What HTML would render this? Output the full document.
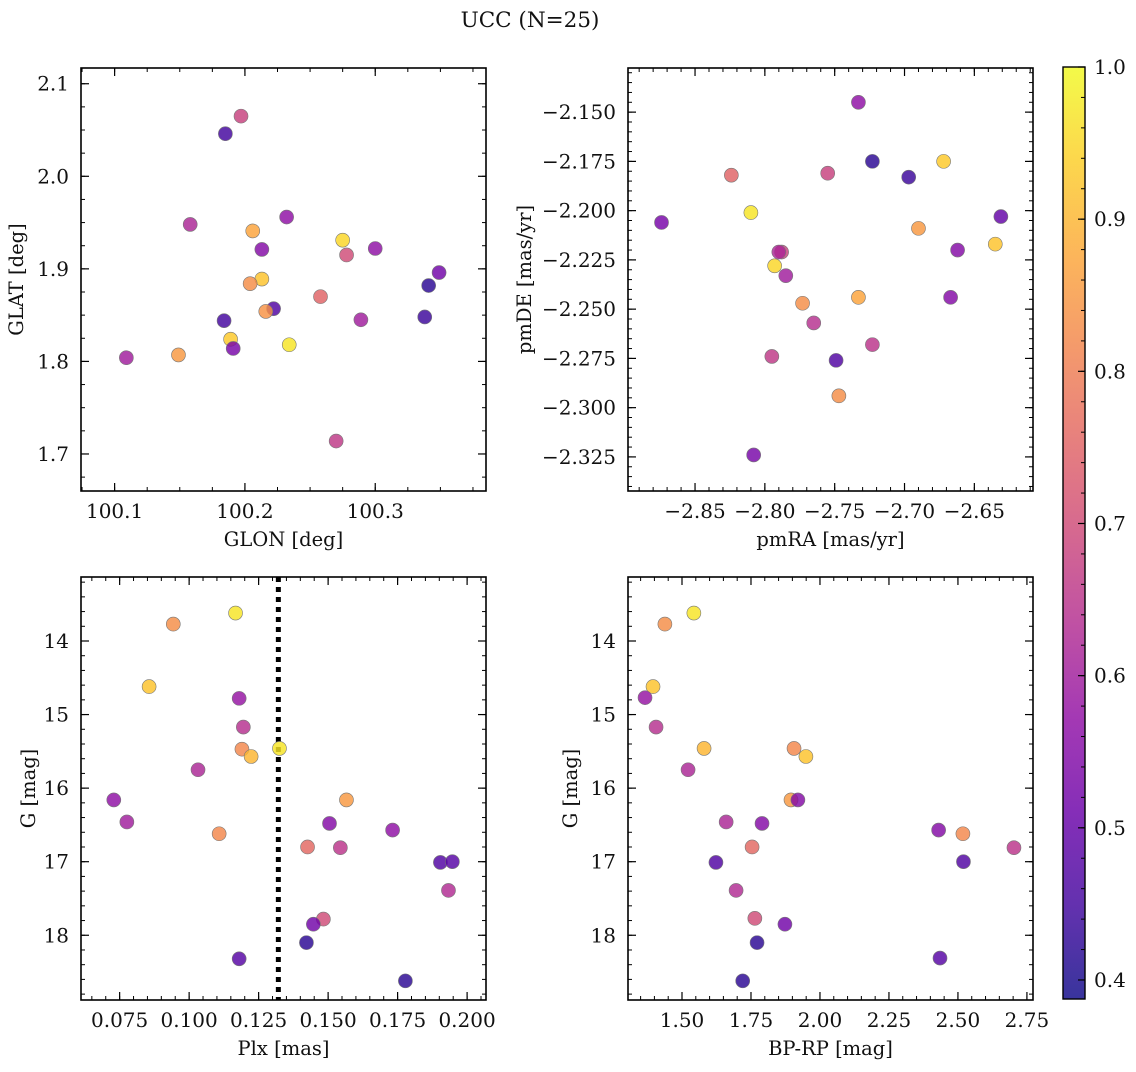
<!DOCTYPE html>
<html><head><meta charset="utf-8"><style>
html,body{margin:0;padding:0;background:#fff;}
svg text{font-family:"DejaVu Serif","Liberation Serif",serif;fill:#111;}
</style></head><body>
<svg id="fig" width="1136" height="1067" xmlns="http://www.w3.org/2000/svg">
<defs><linearGradient id="plasma" x1="0" y1="1" x2="0" y2="0"></linearGradient></defs>
<text x="530" y="27" font-size="21.5" text-anchor="middle">UCC (N=25)</text>
</svg>
<script>
// Panel 1: GLON vs GLAT
const glonX=[100.185,100.197,100.158,100.206,100.232,100.213,100.275,100.300,100.278,100.349,100.213,100.204,100.341,100.222,100.216,100.258,100.184,100.289,100.338,100.189,100.191,100.234,100.109,100.149,100.270];
const glatY=[2.046,2.065,1.948,1.941,1.956,1.921,1.931,1.922,1.915,1.896,1.889,1.884,1.882,1.857,1.854,1.870,1.844,1.845,1.848,1.824,1.814,1.818,1.804,1.807,1.714];
const p1C=[0.45,0.68,0.62,0.87,0.57,0.55,0.95,0.57,0.70,0.52,0.92,0.83,0.42,0.47,0.84,0.75,0.45,0.60,0.44,0.93,0.53,0.97,0.60,0.85,0.66];
// Panel 2: pmRA vs pmDE
const pmraX=[-2.733,-2.824,-2.755,-2.723,-2.697,-2.672,-2.874,-2.810,-2.631,-2.690,-2.788,-2.662,-2.793,-2.785,-2.635,-2.773,-2.733,-2.667,-2.765,-2.795,-2.723,-2.749,-2.747,-2.808,-2.790];
const pmdeY=[-2.145,-2.182,-2.181,-2.175,-2.183,-2.175,-2.206,-2.201,-2.203,-2.209,-2.221,-2.220,-2.228,-2.233,-2.217,-2.247,-2.244,-2.244,-2.257,-2.274,-2.268,-2.276,-2.294,-2.324,-2.221];
const p2C=[0.57,0.75,0.68,0.42,0.44,0.93,0.53,0.97,0.50,0.85,0.68,0.55,0.95,0.60,0.92,0.83,0.87,0.55,0.64,0.66,0.65,0.47,0.83,0.53,0.62];
// Panel 3: Plx vs G
const plxX=[0.1167,0.0943,0.0856,0.118,0.1195,0.119,0.1223,0.1325,0.1032,0.0729,0.0776,0.1108,0.118,0.1566,0.1505,0.1732,0.1426,0.1544,0.1904,0.1947,0.1933,0.1483,0.1447,0.1422,0.1778];
const gY3=[13.62,13.77,14.62,14.78,15.17,15.47,15.57,15.46,15.75,16.16,16.46,16.62,18.32,16.16,16.48,16.57,16.80,16.81,17.01,17.00,17.39,17.78,17.85,18.10,18.62];
const p3C=[0.97,0.83,0.92,0.58,0.64,0.82,0.90,0.97,0.62,0.57,0.60,0.82,0.48,0.85,0.55,0.57,0.76,0.65,0.47,0.48,0.63,0.70,0.52,0.42,0.42];
const plxLine=[0.1321];
// Panel 4: BP-RP vs G
const bprpX=[1.543,1.438,1.395,1.366,1.406,1.58,1.906,1.949,1.522,1.895,1.92,1.66,1.79,2.43,2.518,1.754,2.703,1.623,2.52,1.696,1.764,1.873,1.772,2.435,1.72];
const gY4=[13.62,13.77,14.62,14.77,15.17,15.46,15.46,15.57,15.75,16.16,16.16,16.46,16.48,16.57,16.62,16.80,16.81,17.01,17.00,17.39,17.77,17.85,18.10,18.31,18.62];
const p4C=[0.97,0.83,0.92,0.58,0.64,0.90,0.82,0.92,0.62,0.85,0.55,0.62,0.55,0.55,0.82,0.76,0.65,0.47,0.47,0.63,0.70,0.52,0.42,0.48,0.42];
const cbTicks=[0.4,0.5,0.6,0.7,0.8,0.9,1.0];

const NS="http://www.w3.org/2000/svg";
const svg=document.getElementById('fig');
const CMIN=0.3875,CMAX=1.0;
const FS=20, LFS=19.5;
const stops=[[0,'#0d0887'],[0.1,'#41049d'],[0.2,'#6a00a8'],[0.3,'#8f0da4'],[0.4,'#b12a90'],[0.5,'#cc4778'],[0.6,'#e16462'],[0.7,'#f2844b'],[0.8,'#fca636'],[0.9,'#fcce25'],[1,'#f0f921']];
function hex(h){return [1,3,5].map(i=>parseInt(h.substr(i,2),16));}
function cmap(v){let t=Math.max(0,Math.min(1,(v-CMIN)/(CMAX-CMIN)));
 for(let i=0;i<stops.length-1;i++){if(t<=stops[i+1][0]){const a=hex(stops[i][1]),b=hex(stops[i+1][1]);const f=(t-stops[i][0])/(stops[i+1][0]-stops[i][0]);
 return 'rgb('+a.map((x,k)=>Math.round(x+(b[k]-x)*f)).join(',')+')';}}return stops[stops.length-1][1];}
function el(tag,attrs,parent){const e=document.createElementNS(NS,tag);for(const k in attrs)e.setAttribute(k,attrs[k]);(parent||svg).appendChild(e);return e;}
function fmt(v,d){const s=Math.abs(v).toFixed(d);return (v<0?'\u2212':'')+s;}

function panel(name,box,xr,yr,xt,xmin,xd,yt,ymin,yd,xs,ys,cs,xlabel,ylabel,invY,ylOff){
 const g=el('g',{});
 
 
 const [L,T,R,B]=box;
 const sx=v=>L+(v-xr[0])/(xr[1]-xr[0])*(R-L);
 const sy=invY? v=>T+(v-yr[0])/(yr[1]-yr[0])*(B-T) : v=>B-(v-yr[0])/(yr[1]-yr[0])*(B-T);
 const lo=Math.min(xr[0],xr[1]),hi=Math.max(xr[0],xr[1]);
 for(let v=Math.ceil(lo/xmin-1e-6)*xmin;v<=hi+1e-9;v+=xmin){const x=sx(v);
  const t1=el('line',{x1:x,x2:x,y1:B,y2:B-4,stroke:'#000','stroke-width':1},g);
  const t2=el('line',{x1:x,x2:x,y1:T,y2:T+4,stroke:'#000','stroke-width':1},g);}
 const ylo=Math.min(yr[0],yr[1]),yhi=Math.max(yr[0],yr[1]);
 for(let v=Math.ceil(ylo/ymin-1e-6)*ymin;v<=yhi+1e-9;v+=ymin){const y=sy(v);
  const t1=el('line',{x1:L,x2:L+4,y1:y,y2:y,stroke:'#000','stroke-width':1},g);
  const t2=el('line',{x1:R,x2:R-4,y1:y,y2:y,stroke:'#000','stroke-width':1},g);}
 xt.forEach(v=>{const x=sx(v);
  const a=el('line',{x1:x,x2:x,y1:B,y2:B-8,stroke:'#000','stroke-width':1.2},g);
  const b=el('line',{x1:x,x2:x,y1:T,y2:T+8,stroke:'#000','stroke-width':1.2},g);
  const t=el('text',{x:x,y:B+27,'font-size':FS,'text-anchor':'middle'},g);t.textContent=fmt(v,xd);
  });
 yt.forEach(v=>{const y=sy(v);
  const a=el('line',{x1:L,x2:L+8,y1:y,y2:y,stroke:'#000','stroke-width':1.2},g);
  const b=el('line',{x1:R,x2:R-8,y1:y,y2:y,stroke:'#000','stroke-width':1.2},g);
  const t=el('text',{x:L-12,y:y+7,'font-size':FS,'text-anchor':'end'},g);t.textContent=fmt(v,yd);
  });
 const fr=el('rect',{x:L,y:T,width:R-L,height:B-T,fill:'none',stroke:'#000','stroke-width':1.6},g);
 
 const xl=el('text',{x:(L+R)/2,y:B+55,'font-size':LFS,'text-anchor':'middle'},g);xl.textContent=xlabel;
 
 const yx=L-ylOff,yy=(T+B)/2;
 const yl=el('text',{x:yx,y:yy,'font-size':LFS,'text-anchor':'middle',transform:'rotate(-90 '+yx+' '+yy+')'},g);yl.textContent=ylabel;
 
 return {g,sx,sy,T,B,draw(){xs.forEach((v,i)=>{const c=el('circle',{cx:sx(v),cy:sy(ys[i]),r:7,fill:cmap(cs[i]),'fill-opacity':0.82,stroke:'#777','stroke-width':0.6},g);
  });}};
}
const P1=panel('glon-glat-panel',[81,68,486,491],[100.0742,100.385],[1.66,2.117],[100.1,100.2,100.3],0.025,1,[1.7,1.8,1.9,2.0,2.1],0.025,1,glonX,glatY,p1C,'GLON [deg]','GLAT [deg]',false,58);P1.draw();
const P2=panel('pm-panel',[628,68,1033,491],[-2.898,-2.608],[-2.3423,-2.1276],[-2.85,-2.80,-2.75,-2.70,-2.65],0.01,2,[-2.325,-2.3,-2.275,-2.25,-2.225,-2.2,-2.175,-2.15],0.005,3,pmraX,pmdeY,p2C,'pmRA [mas/yr]','pmDE [mas/yr]',false,97);P2.draw();
const P3=panel('plx-g-panel',[81,577,486,1000],[0.0611,0.2068],[13.13,18.88],[0.075,0.1,0.125,0.15,0.175,0.2],0.005,3,[14,15,16,17,18],0.2,0,plxX,gY3,p3C,'Plx [mas]','G [mag]',true,46);
plxLine.forEach(v=>{const l=el('line',{x1:P3.sx(v),x2:P3.sx(v),y1:P3.T,y2:P3.B,stroke:'#000','stroke-width':5,'stroke-dasharray':'5 5'},P3.g);
 });
P3.draw();
const P4=panel('color-magnitude-panel',[628,577,1033,1000],[1.3043,2.772],[13.13,18.88],[1.5,1.75,2.0,2.25,2.5,2.75],0.05,2,[14,15,16,17,18],0.2,0,bprpX,gY4,p4C,'BP-RP [mag]','G [mag]',true,51);P4.draw();

const grad=document.getElementById('plasma');
for(let i=0;i<=20;i++){const v=CMIN+(CMAX-CMIN)*i/20;el('stop',{offset:(i/20),'stop-color':cmap(v),'stop-opacity':0.82},grad);}
const cb=el('g',{});


const cT=67,cB=999,cL=1063,cR=1085;
const cy=v=>cB-(v-CMIN)/(CMAX-CMIN)*(cB-cT);
const cr=el('rect',{x:cL,y:cT,width:cR-cL,height:cB-cT,fill:'url(#plasma)',stroke:'#000','stroke-width':1.4},cb);

for(let v=0.4;v<=1.0001;v+=0.02){const m=el('line',{x1:cR,x2:cR-4,y1:cy(v),y2:cy(v),stroke:'#000','stroke-width':1},cb);
 }
cbTicks.forEach(v=>{const m=el('line',{x1:cR,x2:cR-7,y1:cy(v),y2:cy(v),stroke:'#000','stroke-width':1.2},cb);
 
 const t=el('text',{x:cR+9,y:cy(v)+7,'font-size':FS},cb);t.textContent=v.toFixed(1);
 });
</script>
</body></html>
